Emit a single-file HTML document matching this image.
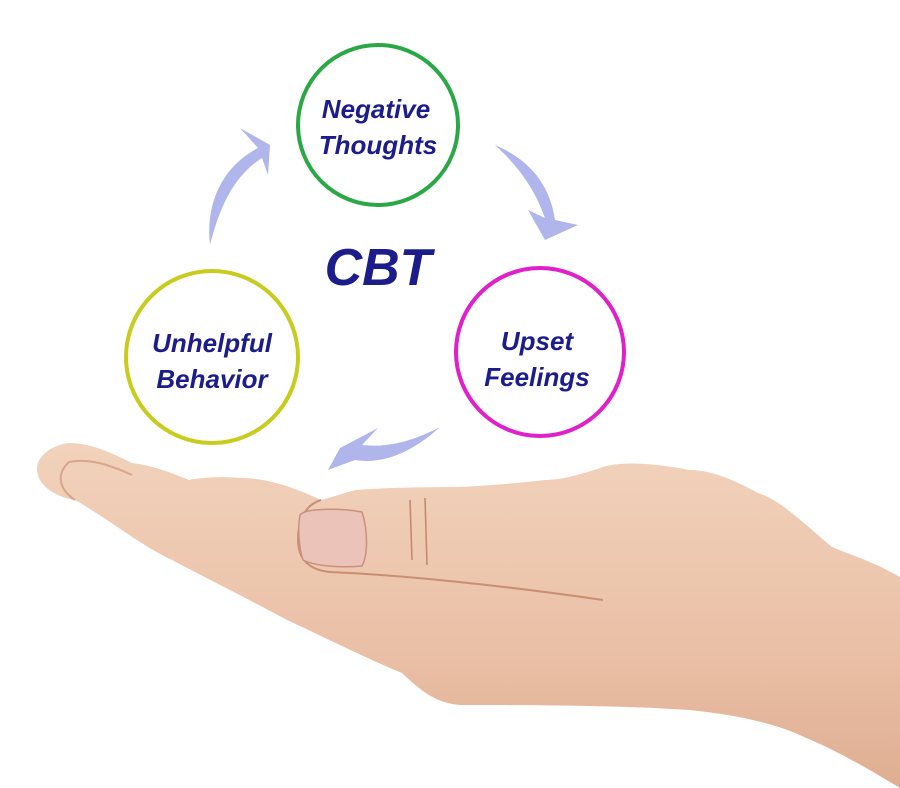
<!DOCTYPE html>
<html><head><style>body{margin:0;background:#fff}svg{display:block}</style></head><body>
<svg width="900" height="788" viewBox="0 0 900 788" xmlns="http://www.w3.org/2000/svg">
<defs>
<linearGradient id="sk" x1="0" y1="0" x2="0" y2="1">
<stop offset="0" stop-color="#f2d2bc"/><stop offset="0.6" stop-color="#eac0a6"/><stop offset="1" stop-color="#dfae92"/>
</linearGradient>
</defs>
<path d="M69 443 C50 445 36 458 37 470 C38 488 60 498 75 500 C110 520 140 545 172 560 C210 580 250 600 287 620 C330 640 370 660 402 673 C420 690 435 703 460 705 C520 705 620 705 689 710 C740 715 780 725 804 737 C840 752 870 770 900 788 L900 577 C870 560 850 555 832 547 C800 520 780 500 758 493 C730 478 710 470 689 470 C650 462 620 462 603 467 C580 475 560 480 545 480 C510 484 480 486 459 487 C420 487 380 488 356 490 C340 494 330 498 321 500 C300 490 270 478 241 478 C220 476 200 478 189 480 C170 472 150 465 132 463 C110 452 90 443 69 443 Z" fill="url(#sk)"/>
<path d="M321 500 C305 505 298 520 298 540 C298 560 310 570 330 572 C400 575 500 585 603 600" fill="none" stroke="#c98f72" stroke-width="2"/>
<path d="M300 515 C305 508 340 508 362 512 C368 530 368 555 362 566 C340 568 315 566 303 560 C298 545 298 525 300 515 Z" fill="#ecc3b8" stroke="#c99080" stroke-width="1.5"/>
<path d="M75 500 C60 490 55 475 69 462 C90 458 110 465 132 475" fill="none" stroke="#d9a68a" stroke-width="2"/>
<path d="M410 500 L412 560 M425 498 L427 565" stroke="#c08868" stroke-width="1.5"/>
<circle cx="378" cy="125" r="80" fill="none" stroke="#2aa845" stroke-width="4"/>
<circle cx="212" cy="357" r="86" fill="none" stroke="#c8cc1e" stroke-width="4"/>
<circle cx="540" cy="352" r="84" fill="none" stroke="#e020c8" stroke-width="4"/>
<g fill="#b0b6ec">
<path d="M210 245 C205 200 225 165 258 148 L240 128 L270 145 L268 175 L262 158 C235 175 220 205 210 245 Z"/>
<path d="M495 145 C530 160 550 185 555 220 L578 225 L545 240 L528 210 L545 218 C535 190 520 168 495 145 Z"/>
<path d="M440 427 C415 450 385 465 355 460 L328 470 L340 448 L378 428 L362 445 C390 448 415 440 440 427 Z"/>
</g>
<g font-family="Liberation Sans, sans-serif" font-weight="bold" font-style="italic" fill="#1c1c8a" text-anchor="middle" font-size="26">
<text x="376" y="118">Negative</text>
<text x="378" y="154">Thoughts</text>
<text x="212" y="352">Unhelpful</text>
<text x="212" y="388">Behavior</text>
<text x="537" y="350">Upset</text>
<text x="537" y="386">Feelings</text>
<text x="378" y="285" font-size="52">CBT</text>
</g>
</svg>
</body></html>
